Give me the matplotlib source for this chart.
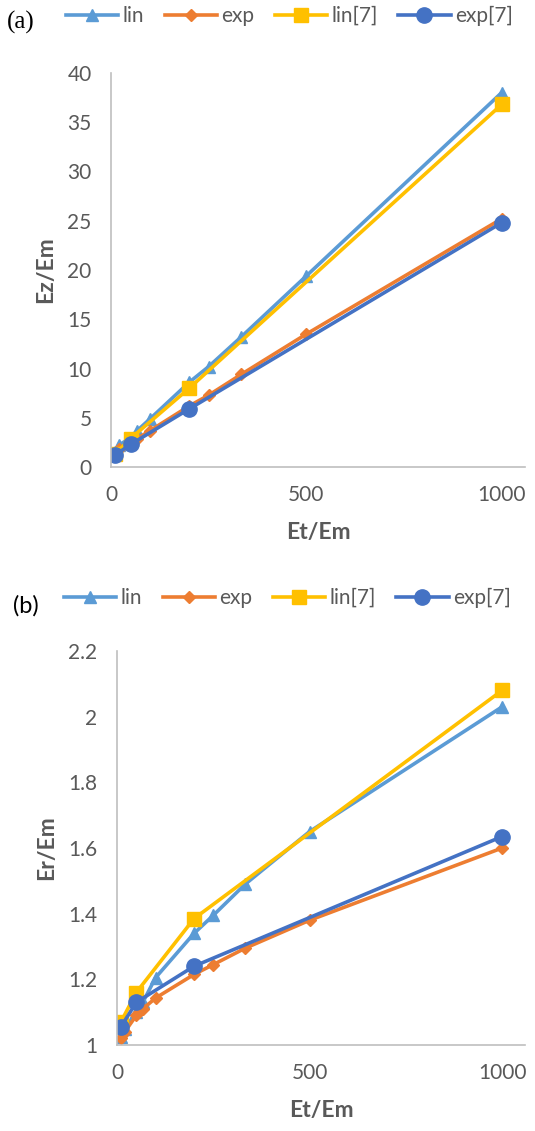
import numpy as np
import matplotlib.pyplot as plt

plt.rcParams['font.family'] = ['Lato', 'DejaVu Sans']

# Et/Em values
x_model = [10, 20, 50, 67, 100, 200, 250, 333, 500, 1000]
x_ref = [10, 50, 200, 1000]

# (a) Ez/Em
ez_lin = [1.5, 2.2, 3.0, 3.7, 4.9, 8.6, 10.2, 13.2, 19.4, 38.0]
ez_exp = [1.4, 1.8, 2.4, 2.9, 3.7, 6.2, 7.3, 9.4, 13.5, 25.2]
ez_lin7 = [1.3, 2.9, 8.0, 36.8]
ez_exp7 = [1.2, 2.3, 5.9, 24.8]

# (b) Er/Em
er_lin = [1.025, 1.05, 1.10, 1.13, 1.205, 1.34, 1.395, 1.49, 1.65, 2.03]
er_exp = [1.02, 1.04, 1.09, 1.11, 1.143, 1.215, 1.245, 1.295, 1.38, 1.60]
er_lin7 = [1.07, 1.16, 1.385, 2.08]
er_exp7 = [1.055, 1.13, 1.24, 1.635]

c_lin = '#5B9BD5'
c_exp = '#ED7D31'
c_lin7 = '#FFC000'
c_exp7 = '#4472C4'
grey = '#595959'


def draw(ax, lin, exp, lin7, exp7, ylabel):
    ax.plot(x_model, lin, color=c_lin, lw=2.6, marker='^', ms=8, label='lin')
    ax.plot(x_model, exp, color=c_exp, lw=2.6, marker='D', ms=6, label='exp')
    ax.plot(x_ref, lin7, color=c_lin7, lw=2.6, marker='s', ms=10, label='lin[7]')
    ax.plot(x_ref, exp7, color=c_exp7, lw=2.6, marker='o', ms=11, label='exp[7]')
    for s in ['top', 'right']:
        ax.spines[s].set_visible(False)
    for s in ['left', 'bottom']:
        ax.spines[s].set_color('#BFBFBF')
        ax.spines[s].set_linewidth(1.2)
    ax.tick_params(length=0, labelsize=15, labelcolor=grey)
    ax.tick_params(axis='x', pad=13)
    ax.tick_params(axis='y', pad=14)
    ax.set_xlim(0, 1060)
    ax.set_xticks([0, 500, 1000])
    ax.set_xlabel('Et/Em', fontsize=16.5, fontweight='bold', color=grey, labelpad=12)
    ax.set_ylabel(ylabel, fontsize=16.5, fontweight='bold', color=grey, labelpad=8)


fig = plt.figure(figsize=(5.35, 11.31), dpi=100)

ax1 = fig.add_axes([0.2075, 0.587, 0.774, 0.3485])
draw(ax1, ez_lin, ez_exp, ez_lin7, ez_exp7, 'Ez/Em')
ax1.set_ylim(0, 40)
ax1.set_yticks(np.arange(0, 41, 5))

ax2 = fig.add_axes([0.2187, 0.076, 0.763, 0.3484])
draw(ax2, er_lin, er_exp, er_lin7, er_exp7, 'Er/Em')
ax2.set_ylim(1, 2.2)
ax2.set_yticks([1, 1.2, 1.4, 1.6, 1.8, 2, 2.2])
ax2.set_yticklabels(['1', '1.2', '1.4', '1.6', '1.8', '2', '2.2'])

leg_kw = dict(ncol=4, frameon=False, fontsize=15, handlelength=2.5,
              handletextpad=0.2, columnspacing=1.0, borderaxespad=0,
              labelcolor=grey)
ax1.legend(loc='center left', bbox_to_anchor=(58 / 535, 1 - 16 / 1131),
           bbox_transform=fig.transFigure, **leg_kw)
ax2.legend(loc='center left', bbox_to_anchor=(56 / 535, 1 - 598 / 1131),
           bbox_transform=fig.transFigure, **leg_kw)

fig.text(7 / 535, 1 - 22 / 1131, '(a)', fontsize=18, family='Liberation Serif',
         va='center', ha='left')
fig.text(13 / 535, 1 - 606 / 1131, '(b)', fontsize=17, family=['Lato', 'DejaVu Sans'],
         va='center', ha='left')

fig.savefig('out.png', dpi=100)
